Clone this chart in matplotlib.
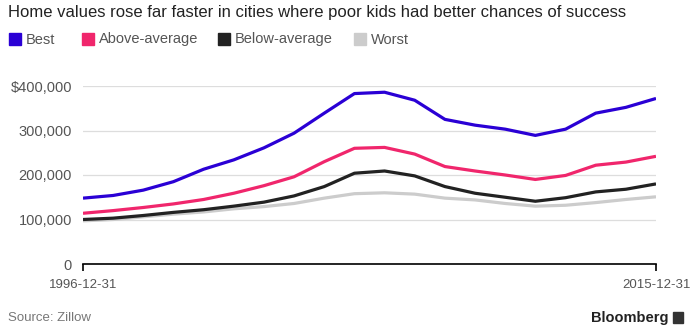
import matplotlib
matplotlib.use("Agg")

import matplotlib.pyplot as plt
import matplotlib.patches as mpatches
import pandas as pd
from matplotlib.ticker import FuncFormatter

plt.rcParams["font.family"] = ["Liberation Sans Narrow", "Liberation Sans", "DejaVu Sans"]

# Annual home values by city group (Dec 31 of each year)
dates = pd.date_range("1996-12-31", "2015-12-31", freq="YE")
best = [148, 154, 166, 185, 213, 234, 261, 294, 339, 383,
        386, 368, 325, 312, 303, 289, 303, 339, 352, 372]
above_average = [114, 120, 127, 135, 145, 159, 176, 196, 230, 260,
                 262, 247, 219, 209, 200, 190, 199, 222, 229, 242]
below_average = [100, 103, 109, 116, 122, 130, 139, 153, 174, 204,
                 209, 198, 174, 159, 150, 141, 149, 162, 168, 180]
worst = [97, 100, 106, 112, 117, 124, 129, 136, 148, 158,
         160, 157, 148, 144, 136, 130, 132, 138, 145, 151]

series = [
    ("Best", best, "#2a00d5"),
    ("Above-average", above_average, "#f0266c"),
    ("Below-average", below_average, "#222222"),
    ("Worst", worst, "#cccccc"),
]

fig = plt.figure(figsize=(6.94, 3.35), dpi=100)
ax = fig.add_axes([83 / 694, 71 / 335, 573 / 694, 178 / 335])

# draw back to front so the worst line sits under the others
for name, values, color in reversed(series):
    ax.plot(dates, [v * 1000 for v in values], color=color, lw=2.3,
            solid_capstyle="butt", solid_joinstyle="round", zorder=3)

ax.set_xlim(dates[0], dates[-1])
ax.set_ylim(0, 400000)
ax.set_yticks([0, 100000, 200000, 300000, 400000])
ax.yaxis.set_major_formatter(FuncFormatter(
    lambda v, _: "$400,000" if v == 400000 else ("0" if v == 0 else f"{int(v):,}")))
ax.set_xticks([dates[0], dates[-1]])
ax.set_xticklabels(["1996-12-31", "2015-12-31"])

for side in ["top", "right", "left"]:
    ax.spines[side].set_visible(False)
ax.spines["bottom"].set_color("black")
ax.spines["bottom"].set_linewidth(1.2)
ax.grid(axis="y", color="#dddddd", lw=0.9, zorder=0)
ax.tick_params(axis="y", length=0, pad=8, labelsize=10.5, labelcolor="#555555")
ax.tick_params(axis="x", length=5, width=1.2, pad=6, labelsize=9.5, labelcolor="#555555")

fig.text(8 / 694, 1 - 13 / 335, "Home values rose far faster in cities where poor kids had better chances of success",
         fontsize=12, color="#222222", va="center", ha="left")

legend_x = [9, 82, 218, 354]
for (name, values, color), lx in zip(series, legend_x):
    fig.patches.append(mpatches.Rectangle((lx / 694, 1 - 45 / 335), 12 / 694, 12 / 335,
                                          transform=fig.transFigure, color=color))
    fig.text((lx + 17) / 694, 1 - 39.5 / 335, name, fontsize=10.5, color="#555555",
             va="center", ha="left")

fig.text(8 / 694, 1 - 318 / 335, "Source: Zillow", fontsize=9.5, color="#777777",
         va="center", ha="left")
fig.text(668 / 694, 1 - 318 / 335, "Bloomberg", fontsize=10.5, fontweight="bold",
         color="#222222", va="center", ha="right")
fig.patches.append(mpatches.Rectangle((673 / 694, 1 - 323 / 335), 10 / 694, 11 / 335,
                                      transform=fig.transFigure, color="#333333"))

fig.savefig("out.png", dpi=100)
